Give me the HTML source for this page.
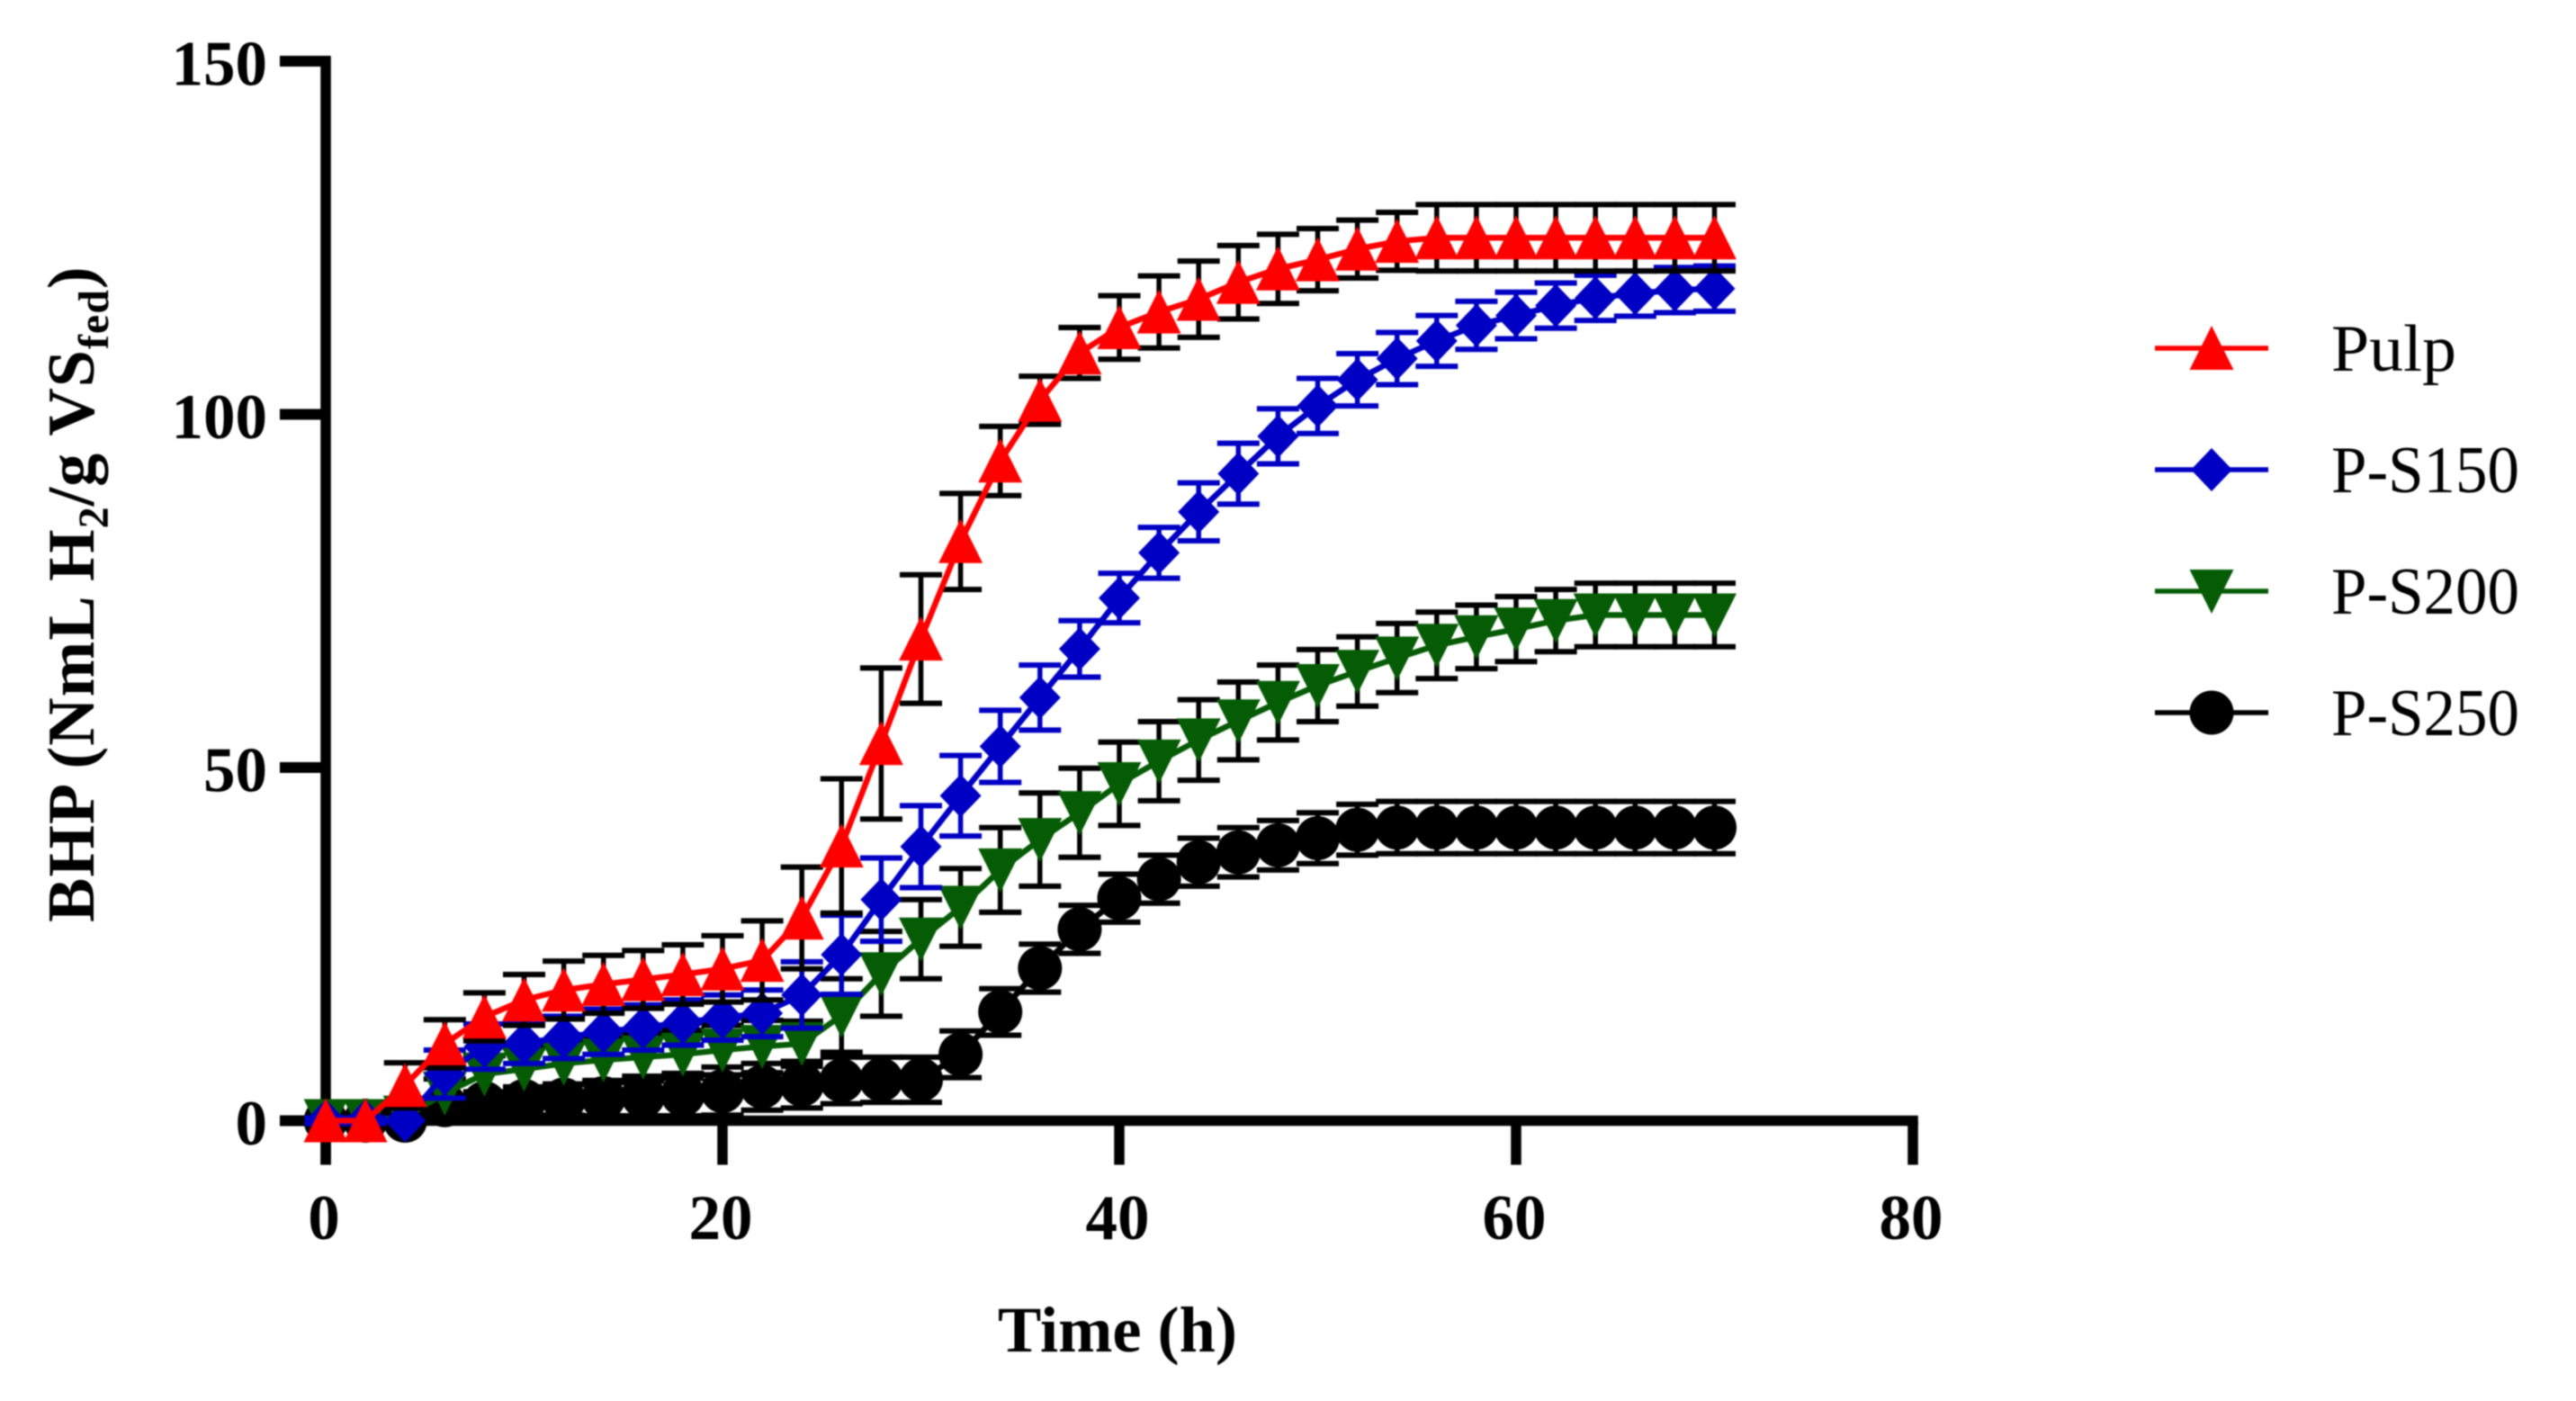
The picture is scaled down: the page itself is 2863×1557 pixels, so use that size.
<!DOCTYPE html>
<html lang="en">
<head>
<meta charset="utf-8">
<title>BHP over time</title>
<style>
html,body{margin:0;padding:0;background:#fff;width:2863px;height:1557px;overflow:hidden}
svg{display:block;filter:blur(0.8px)}
text{font-family:"Liberation Serif","DejaVu Serif",serif;fill:#000}
.tick{font-size:71px;font-weight:700}
.title{font-size:72px;font-weight:700}
.y-title{font-size:74px;font-weight:700;letter-spacing:1px}
.legend{font-size:74px}
</style>
</head>
<body>
<svg id="chart" xmlns="http://www.w3.org/2000/svg" width="2863" height="1557" viewBox="0 0 2863 1557">
  <rect x="-5" y="-5" width="2873" height="1567" fill="#fff"/>
  <g id="series-layer"></g>
  <g id="axes-layer"></g>
  <text class="title" x="1109" y="1502" textLength="266" lengthAdjust="spacingAndGlyphs">Time (h)</text>
  <text class="y-title" transform="translate(104,1025) rotate(-90)">BHP (NmL H<tspan font-size="48" dy="16">2</tspan><tspan dy="-16">/g VS</tspan><tspan font-size="48" dy="16">fed</tspan><tspan dy="-16">)</tspan></text>
  <g id="legend-layer"></g>
</svg>
<script>
const times = [0,2,4,6,8,10,12,14,16,18,20,22,24,26,28,30,32,34,36,38,40,42,44,46,48,50,52,54,56,58,60,62,64,66,68,70];
const pulpValues = [0,0,5,10.9,14.7,17.1,18.5,19.3,20,20.7,21.5,22.7,28.7,38.9,53.4,68.2,82,93.4,102,108.7,112.3,114.5,116.3,118.7,120.6,121.9,123.4,124.5,125,125,125,125,125,125,125,125];
const pulpErrors = [0,0,3.2,3.4,3.4,3.6,4.1,4.1,4.1,4.2,4.7,5.6,7.2,9.5,10.7,9.1,6.8,4.9,3.4,3.6,4.5,5.1,5.4,5.2,4.9,4.4,4.1,4.1,4.7,4.7,4.7,4.7,4.7,4.7,4.7,4.7];
const s150Values = [0,0,0,6.6,10.5,11,11.8,12.6,13.2,13.9,14.6,15.2,17.8,23.5,31.3,38.8,46,53,59.9,66.8,74,80.4,86.2,91.6,96.9,101.2,104.9,107.9,110.4,112.6,114,115.4,116.5,117.1,117.6,117.8];
const s150Errors = [0.4,0.4,0,3.4,3.2,2.9,3,3.2,3.2,3.2,3.2,3.3,4.7,5.6,5.9,5.8,5.7,5.1,4.6,4,3.5,3.6,4.1,4.3,3.9,3.9,3.7,3.7,3.6,3.4,3.3,3.2,3.2,3.2,3.2,3.2];
const s200Values = [0,0,0.5,3.9,6.6,7.3,8.1,8.6,9,9.4,10,10.5,10.9,14.9,20.8,25.7,30.2,35.5,39.8,43.6,47.7,50.9,53.9,56.6,59.2,61.6,63.6,65.5,67.3,68.5,69.6,70.8,71.6,71.6,71.6,71.6];
const s200Errors = [0,0,0.5,2,2.6,3,3,3.2,3.4,3.4,3.5,3.7,3.2,5.2,6,5.6,5.5,6,6.6,6.3,5.9,5.6,5.7,5.5,5.3,5.1,4.9,4.9,4.7,4.5,4.6,4.4,4.5,4.5,4.5,4.5];
const s250Values = [0,0,0,2.2,2.5,2.8,3,3.2,3.5,3.7,4.2,4.8,5.1,5.7,5.8,5.8,9.4,15.4,21.6,27.1,31.5,34.2,36.6,38,39,40,41.2,41.5,41.5,41.5,41.5,41.5,41.5,41.5,41.5,41.5];
const s250Errors = [0,0,0,1.2,1.6,2,2.2,2.5,2.8,3,3.4,3.3,3.3,3.3,3.2,3.2,3.3,3.3,3.4,3.4,3.4,3.4,3.4,3.5,3.5,3.6,3.6,3.7,3.7,3.7,3.7,3.7,3.7,3.7,3.7,3.7];
const xTickValues = [0,20,40,60,80];
const yTickValues = [0,50,100,150];
const legendLabels = ["Pulp","P-S150","P-S200","P-S250"];

const NS = "http://www.w3.org/2000/svg";
const X0 = 362, XU = 22.05, Y0 = 1245.5, YU = 7.85;
function sx(v){ return X0 + v * XU; }
function sy(v){ return Y0 - v * YU; }
function mk(tag, parent){
  const el = document.createElementNS(NS, tag);
  parent.appendChild(el);
  return el;
}
function markerPath(shape, cx, cy){
  if(shape === "up") return "M"+cx+" "+(cy-25)+"L"+(cx+24.5)+" "+(cy+24)+"L"+(cx-24.5)+" "+(cy+24)+"Z";
  if(shape === "down") return "M"+(cx-24.5)+" "+(cy-24)+"L"+(cx+24.5)+" "+(cy-24)+"L"+cx+" "+(cy+25)+"Z";
  return "M"+cx+" "+(cy-24)+"L"+(cx+23)+" "+cy+"L"+cx+" "+(cy+24)+"L"+(cx-23)+" "+cy+"Z";
}
function drawMarker(parent, shape, color, cx, cy, name){
  let el;
  if(shape === "circle"){
    el = mk("circle", parent);
    el.setAttribute("cx", cx);
    el.setAttribute("cy", cy);
    el.setAttribute("r", 24.5);
  } else {
    el = mk("path", parent);
    el.setAttribute("d", markerPath(shape, cx, cy));
  }
  el.setAttribute("fill", color);
  
  
}
function drawLine(parent, x1, y1, x2, y2, color, width, name){
  const l = mk("line", parent);
  l.setAttribute("x1", x1);
  l.setAttribute("y1", y1);
  l.setAttribute("x2", x2);
  l.setAttribute("y2", y2);
  l.setAttribute("stroke", color);
  l.setAttribute("stroke-width", width);
  
  
}

/* series, drawn back to front */
const seriesLayer = document.getElementById("series-layer");
function drawSeries(key, values, errors, color, errColor, shape){
  const g = mk("g", seriesLayer);
  
  
  times.forEach(function(t, i){
    if(errors[i] <= 0) return;
    const x = sx(t), hi = sy(values[i] + errors[i]), lo = sy(values[i] - errors[i]);
    drawLine(g, x, hi, x, lo, errColor, 5.5, key + '-error-stem');
    drawLine(g, x - 23.5, hi, x + 23.5, hi, errColor, 6, key + '-error-cap-upper');
    drawLine(g, x - 23.5, lo, x + 23.5, lo, errColor, 6, key + '-error-cap-lower');
  });
  const pl = mk("polyline", g);
  pl.setAttribute("points", times.map(function(t, i){ return sx(t) + "," + sy(values[i]); }).join(" "));
  pl.setAttribute("fill", "none");
  pl.setAttribute("stroke", color);
  pl.setAttribute("stroke-width", 6.5);
  
  
  times.forEach(function(t, i){
    drawMarker(g, shape, color, sx(t), sy(values[i]), key + '-point');
  });
}
const RED = "#ff0000", BLUE = "#0000c4", GREEN = "#055c05", BLACK = "#000000";
drawSeries("p-s250", s250Values, s250Errors, BLACK, BLACK, "circle");
drawSeries("p-s200", s200Values, s200Errors, GREEN, BLACK, "down");
drawSeries("p-s150", s150Values, s150Errors, BLUE, BLUE, "diamond");
drawSeries("pulp", pulpValues, pulpErrors, RED, BLACK, "up");

/* axes: the y axis and its ticks sit behind the markers near the origin */
const axes = document.getElementById("axes-layer");
const AXW = 11.5;
const seriesFirst = seriesLayer;
const axisBack = document.createElementNS(NS, "g");


seriesFirst.parentNode.insertBefore(axisBack, seriesFirst);
drawLine(axisBack, sx(0), sy(150) - 6, sx(0), 1294.5, BLACK, AXW, 'y-axis-line');
drawLine(axisBack, sx(0) - AXW / 2, sy(0), sx(80) + AXW / 2, sy(0), BLACK, AXW, 'x-axis-line');
xTickValues.forEach(function(v){
  drawLine(axisBack, sx(v), sy(0), sx(v), 1294.5, BLACK, AXW, 'x-tick-' + v);
  const t = mk("text", axes);
  t.setAttribute("class", "tick");
  t.setAttribute("x", sx(v) - 2);
  t.setAttribute("y", 1377);
  t.setAttribute("text-anchor", "middle");
  
  
  t.textContent = v;
});
yTickValues.forEach(function(v){
  drawLine(axisBack, 311, sy(v), sx(0), sy(v), BLACK, 12, 'y-tick-' + v);
  const t = mk("text", axes);
  t.setAttribute("class", "tick");
  t.setAttribute("x", 297);
  t.setAttribute("y", sy(v) + 26.5);
  t.setAttribute("text-anchor", "end");
  
  
  t.textContent = v;
});

/* legend */
const legend = document.getElementById("legend-layer");
const legendShapes = ["up","diamond","down","circle"];
const legendColors = [RED, BLUE, GREEN, BLACK];
legendLabels.forEach(function(label, i){
  const g = mk("g", legend);
  
  
  const y = 387 + i * 135;
  drawLine(g, 2395, y, 2521, y, legendColors[i], 5.5, 'legend-line');
  drawMarker(g, legendShapes[i], legendColors[i], 2458, y, 'legend-marker');
  const t = mk("text", g);
  t.setAttribute("class", "legend");
  t.setAttribute("x", 2591);
  t.setAttribute("y", y + 25);
  t.setAttribute("textLength", label.length > 4 ? 209 : 139);
  t.setAttribute("lengthAdjust", "spacingAndGlyphs");
  
  
  t.textContent = label;
});
</script>
</body>
</html>
